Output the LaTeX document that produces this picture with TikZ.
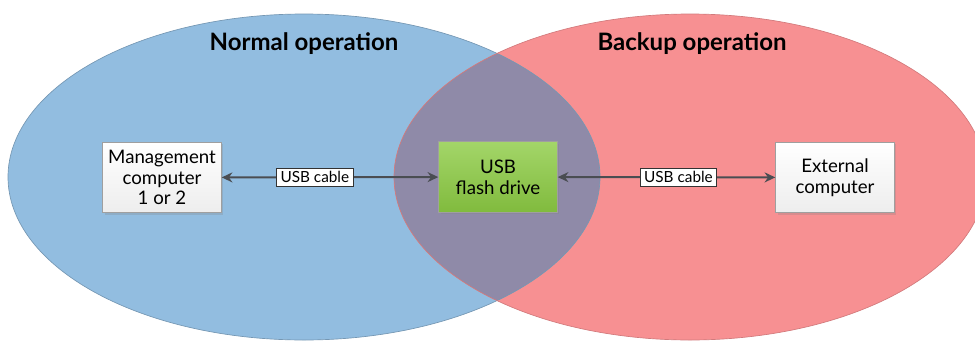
\documentclass[tikz,border=0pt]{standalone}
\usepackage{fontspec}
\setmainfont{Lato}
\usetikzlibrary{arrows.meta,shadows}
\definecolor{normalblue}{HTML}{92BDE0}
\definecolor{backupred}{HTML}{F79092}
\definecolor{overlap}{HTML}{8F8AA8}
\definecolor{cablegray}{HTML}{4A4D52}
\definecolor{flashgreen}{HTML}{8CCB43}

\begin{document}
\begin{tikzpicture}[x=0.75pt,y=-0.75pt,
		box/.style={draw=gray!75, line width=0.6pt, minimum width=89pt, minimum height=53pt, align=center,
			font=\fontsize{14}{15.5}\selectfont, drop shadow={shadow xshift=1.5pt, shadow yshift=-1.5pt, opacity=0.25}},
		pcbox/.style={box, top color=white, bottom color=gray!14},
		flashbox/.style={box, top color=flashgreen!80!white, bottom color=flashgreen!92!black},
		cable/.style={draw=cablegray, line width=1.5pt, {Stealth[length=8pt,width=7.5pt]}-{Stealth[length=8pt,width=7.5pt]}},
		cablelabel/.style={fill=white, draw=black!80, line width=0.5pt, inner xsep=3pt, inner ysep=2.5pt, font=\fontsize{11.5}{13}\selectfont},
		title/.style={font=\fontsize{18}{21}\selectfont\bfseries}]
		\useasboundingbox (0,0) rectangle (975,347);
		\clip (0,0) rectangle (975,347);

		\fill[normalblue] (304,177) ellipse [x radius=296, y radius=163];
		\fill[backupred] (690,177) ellipse [x radius=296, y radius=163];
		\begin{scope}
			\clip (304,177) ellipse [x radius=296, y radius=163];
			\fill[overlap] (690,177) ellipse [x radius=296, y radius=163];
		\end{scope}
		\draw[normalblue!80!black, line width=0.5pt] (304,177) ellipse [x radius=296, y radius=163];
		\draw[backupred!85!black, line width=0.5pt] (690,177) ellipse [x radius=296, y radius=163];

		\node[title] (normal) at (304,44) {Normal operation};
		\node[title] (backup) at (692,44) {Backup operation};

		\node[pcbox] (mgmt) at (162,177.5) {Management\\computer\\1 or 2};
		\node[flashbox] (usb) at (498,177) {USB\\flash drive};
		\node[pcbox] (ext) at (835,177.5) {External\\computer};

		\draw[cable] (mgmt) -- node[cablelabel, pos=0.43] (cableA) {USB cable} (usb);
		\draw[cable] (usb) -- node[cablelabel, pos=0.555] (cableB) {USB cable} (ext);
	\end{tikzpicture}
\end{document}
